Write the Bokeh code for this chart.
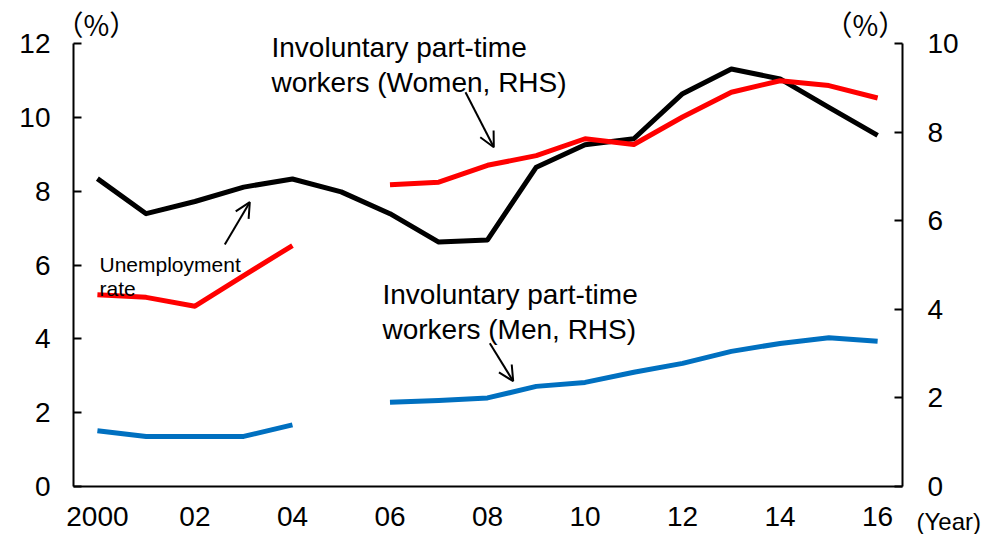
from bokeh.plotting import figure
from bokeh.models import Range1d, LinearAxis, FixedTicker, Label, Arrow, OpenHead, ColumnDataSource
from bokeh.embed import file_html
from bokeh.resources import INLINE

nan = float("nan")

# ---- data ----
years = list(range(2000, 2017))
unemployment_rate = [8.34, 7.39, 7.72, 8.11, 8.33, 7.98, 7.39, 6.62, 6.68, 8.65,
                     9.26, 9.42, 10.64, 11.31, 11.04, 10.27, 9.51]
involuntary_women = [4.33, 4.27, 4.07, 4.76, 5.44, nan, 6.81, 6.87, 7.25, 7.47,
                     7.85, 7.72, 8.34, 8.90, 9.16, 9.05, 8.77]
involuntary_men = [1.26, 1.13, 1.13, 1.13, 1.39, nan, 1.90, 1.94, 2.00, 2.26,
                   2.35, 2.58, 2.78, 3.05, 3.23, 3.36, 3.28]
x_ticks = [2000, 2002, 2004, 2006, 2008, 2010, 2012, 2014, 2016]
x_tick_labels = ["2000", "02", "04", "06", "08", "10", "12", "14", "16"]
left_ticks = [0, 2, 4, 6, 8, 10, 12]
right_ticks = [0, 2, 4, 6, 8, 10]

src = ColumnDataSource(dict(year=years, unemp=unemployment_rate,
                            women=involuntary_women, men=involuntary_men))

TICK_FONT = "Liberation Sans"
TEXT_FONT = "Liberation Sans"

# ---- layout: the frame fills the canvas; axes sit at fixed data locations ----
W, H = 1007, 534
AX_L, AX_R, AX_T, AX_B = 73, 902, 43, 486        # pixel box of the plotted area
X0, X1 = 1999.51, 2016.51                         # x extent of the plotted area
L_MAX, R_MAX = 12, 10
xs = (AX_R - AX_L) / (X1 - X0)
ls = (AX_B - AX_T) / L_MAX
rs = (AX_B - AX_T) / R_MAX

p = figure(width=W, height=H,
           x_range=Range1d(X0 - AX_L / xs, X1 + (W - AX_R) / xs),
           y_range=Range1d(-(H - AX_B) / ls, L_MAX + AX_T / ls),
           output_backend="svg", toolbar_location=None,
           min_border_left=0, min_border_right=0,
           min_border_top=0, min_border_bottom=0)
p.extra_y_ranges = {"rhs": Range1d(-(H - AX_B) / rs, R_MAX + AX_T / rs)}
p.grid.visible = False
p.outline_line_color = None
p.background_fill_color = "white"
p.border_fill_color = "white"

# bottom axis
xa = p.xaxis[0]
xa.fixed_location = 0
xa.bounds = (X0, X1)
xa.ticker = FixedTicker(ticks=x_ticks)
xa.major_label_overrides = {t: l for t, l in zip(x_ticks, x_tick_labels)}
xa.major_tick_in = 0
xa.major_tick_out = 0
xa.minor_tick_line_color = None
xa.axis_line_width = 2
xa.axis_line_color = "black"
xa.major_label_text_font = TICK_FONT
xa.major_label_text_font_size = "28px"
xa.major_label_text_color = "black"
xa.major_label_standoff = 20

# left axis
ya = p.yaxis[0]
ya.fixed_location = X0
ya.bounds = (0, L_MAX)
ya.ticker = FixedTicker(ticks=left_ticks)
ya.major_tick_in = 8
ya.major_tick_out = 0
ya.minor_tick_line_color = None
ya.axis_line_width = 2
ya.major_tick_line_width = 2
ya.axis_line_color = "black"
ya.major_tick_line_color = "black"
ya.major_label_text_font = TICK_FONT
ya.major_label_text_font_size = "28px"
ya.major_label_text_color = "black"
ya.major_label_standoff = 23

# right axis
ra = LinearAxis(y_range_name="rhs", ticker=FixedTicker(ticks=right_ticks),
                fixed_location=X1, bounds=(0, R_MAX))
ra.major_tick_in = 8
ra.major_tick_out = 0
ra.minor_tick_line_color = None
ra.axis_line_width = 2
ra.major_tick_line_width = 2
ra.axis_line_color = "black"
ra.major_tick_line_color = "black"
ra.major_label_text_font = TICK_FONT
ra.major_label_text_font_size = "28px"
ra.major_label_text_color = "black"
ra.major_label_standoff = 25
p.add_layout(ra, "right")

# series
p.line("year", "unemp", source=src, line_color="black", line_width=5, line_join="round")
p.line("year", "women", source=src, line_color="#FF0000", line_width=5,
       line_join="round", y_range_name="rhs")
p.line("year", "men", source=src, line_color="#0070C0", line_width=5,
       line_join="round", y_range_name="rhs")

# texts placed in canvas pixels
def add_text(txt, px, py, size, font=TEXT_FONT, baseline="alphabetic", align="left"):
    p.add_layout(Label(x=px, y=py, x_units="canvas", y_units="canvas", text=txt,
                       text_font=font, text_font_size=size, text_color="black",
                       text_baseline=baseline, text_align=align))

add_text("Involuntary part-time", 271, 46.7, "28px")
add_text("workers (Women, RHS)", 271, 81.7, "28px")
add_text("Involuntary part-time", 382, 294.3, "28px")
add_text("workers (Men, RHS)", 382, 329.3, "28px")
add_text("Unemployment", 99, 264, "21px")
add_text("rate", 99, 288.3, "21px")
add_text("（%）", 55, 23, "28px", font="Noto Sans CJK JP", baseline="middle")
add_text("（%）", 824, 23, "28px", font="Noto Sans CJK JP", baseline="middle")
add_text("(Year)", 916, 521, "24px", baseline="middle")

# arrow placement helpers: canvas pixel -> data coordinates
def dx(px):
    return X0 + (px - AX_L) / xs

def dy(py):
    return (AX_B - py) / ls

def add_arrow(x0, y0, x1, y1):
    p.add_layout(Arrow(end=OpenHead(size=15, line_width=2, line_color="black"),
                       x_start=dx(x0), y_start=dy(y0), x_end=dx(x1), y_end=dy(y1),
                       line_width=2, line_color="black"))

add_arrow(465, 91.7, 493.3, 146.7)
add_arrow(224.3, 244, 249.3, 201.7)
add_arrow(489.3, 342.7, 512.7, 380.7)

open("out.html", "w").write(file_html(p, INLINE))
